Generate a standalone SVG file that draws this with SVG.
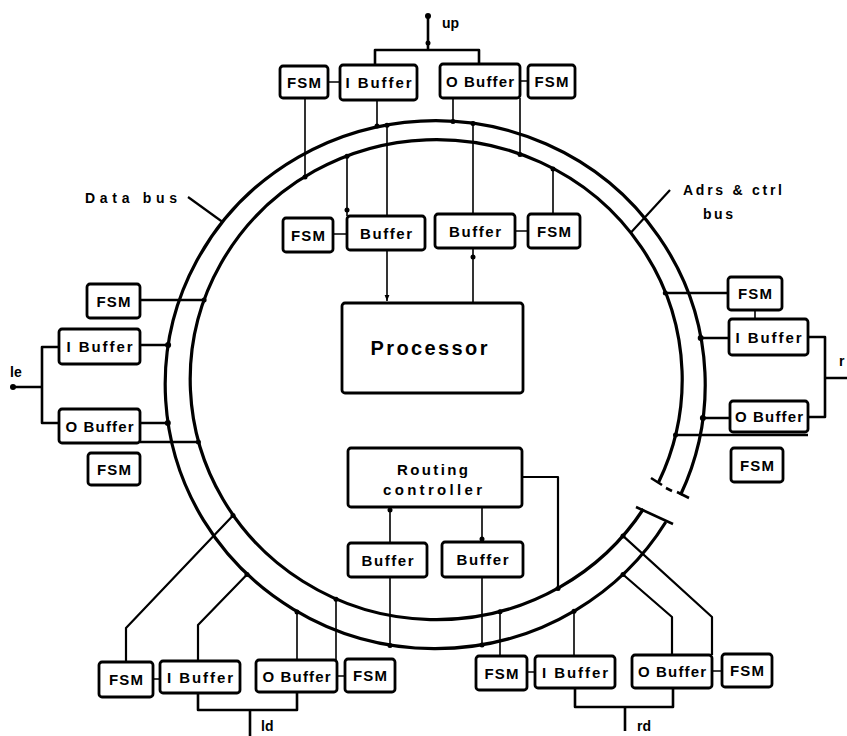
<svg xmlns="http://www.w3.org/2000/svg" width="847" height="736" viewBox="0 0 847 736">
  <style>
    .box{fill:#fff;stroke:#000;stroke-width:2.8}
    .t{font-family:"Liberation Sans",Arial,sans-serif;font-weight:bold;font-size:15px;fill:#000;text-anchor:middle}
    .lbl{font-family:"Liberation Sans",Arial,sans-serif;font-weight:bold;font-size:14px;fill:#000}
    .bus{fill:none;stroke:#000;stroke-width:3.2}
    .w{fill:none;stroke:#000;stroke-width:2.6;stroke-linejoin:round}
    .n{fill:none;stroke:#000;stroke-width:1.6}
    .dot{fill:#000}
  </style>
  <defs>
    <marker id="arr" viewBox="0 0 10 10" refX="10" refY="5" markerWidth="6" markerHeight="6" orient="auto" markerUnits="userSpaceOnUse">
      <path d="M0 1 L10 5 L0 9 Z" fill="#000"/>
    </marker>
  </defs>

  <!-- double ring: outer = data bus, inner = address & control bus, broken at lower right -->
  <g id="ring">
    <path class="bus" d="M 643.4 509 A 246 240 0 1 1 658.7 482"/>
    <path class="bus" d="M 665.8 522 A 270 264 0 1 1 680.5 495"/>
    <path class="w" d="M651 478 L662 485 M666 488 L672 491 M677 492 L689 498"/>
    <path class="w" d="M636 507 L673 524"/>
  </g>

  <!-- bus labels -->
  <g id="bus-labels">
    <path class="n" style="stroke-width:2.2" d="M188 197 L222.6 222"/>
    <text class="lbl" x="85" y="203" textLength="92" lengthAdjust="spacing">Data bus</text>
    <path class="n" style="stroke-width:2.2" d="M670 190 L630.5 233"/>
    <text class="lbl" x="683" y="195" textLength="99" lengthAdjust="spacing">Adrs &amp; ctrl</text>
    <text class="lbl" x="703" y="219" textLength="30" lengthAdjust="spacing">bus</text>
  </g>

  <!-- connectors -->
  <g id="connectors">
    <!-- top port -->
    <path class="w" d="M375 65 V50 H479 V64 M428 50 V15"/>
    <path class="n" d="M328 82 H340 M520 81 H528"/>
    <path class="n" d="M305 98 V177 M377 100 V127 M453 98 V121.6 M520 98 V154.4"/>
    <!-- inner top pair and processor feeds -->
    <path class="n" d="M347 216 V156.3 M553 214 V168.9 M333 234 H347 M515 231 H528"/>
    <path class="n" d="M387 125.2 V301" marker-end="url(#arr)"/>
    <path class="n" d="M473 123.6 V303"/>
    <!-- left port -->
    <path class="w" d="M140 300 H204.1 M140 345 H168.1 M140 423 H167.8 M140 442 H198.4"/>
    <path class="w" d="M59 347 H42 V423 H59 M42 387 H13"/>
    <!-- right port -->
    <path class="w" d="M728 293 H665.3 M729 338 H700.7 M730 418 H702.9 M808 435 H675.5"/>
    <path class="n" d="M755 310 V319"/>
    <path class="w" d="M808 337 H825 V417 H808 M825 378 H847"/>
    <!-- lower left port -->
    <path class="w" style="stroke-width:2.2" d="M126 662 V628 L233 515.6 M198 661 V625 L247 574.5"/>
    <path class="n" d="M297 660 V612 M336 660 V599.3 M153 679 H160 M337 676 H345"/>
    <path class="w" d="M198 693 V710 H297 V692 M250 710 V736"/>
    <!-- routing controller -->
    <path class="n" d="M390 507 V543 M482 507 V542 M390 577 V645.6 M482 577 V645"/>
    <path class="w" style="stroke-width:2.2" d="M522 477 H558 V588.4"/>
    <!-- lower right port -->
    <path class="n" d="M500 656 V611.7 M574 656 V611.3 M527 672 H535 M712 671 H722"/>
    <path class="w" style="stroke-width:2.2" d="M672 655 V617 L623 574.5 M712 655 V617 L623 535.9"/>
    <path class="w" d="M575 688 V707 H673 V688 M625 707 V731"/>
    <!-- junction dots -->
    <g class="dot">
      <circle cx="428" cy="16" r="3"/><circle cx="428" cy="43" r="2.5"/>
      <circle cx="305" cy="177" r="2.5"/><circle cx="377" cy="126" r="2.5"/>
      <circle cx="453" cy="121.6" r="2.5"/><circle cx="520" cy="154.4" r="2.5"/>
      <circle cx="347" cy="156.3" r="2.5"/><circle cx="347" cy="210" r="2.5"/>
      <circle cx="387" cy="125.2" r="2.5"/><circle cx="473" cy="123.6" r="2.5"/>
      <circle cx="473" cy="257" r="2.5"/><circle cx="553" cy="168.9" r="2.5"/>
      <circle cx="204.1" cy="300" r="2.5"/><circle cx="168.1" cy="345" r="3"/>
      <circle cx="167.8" cy="423" r="3"/><circle cx="198.4" cy="442" r="2.5"/>
      <circle cx="13" cy="387" r="3"/>
      <circle cx="665.3" cy="293" r="2.5"/><circle cx="700.7" cy="338" r="3"/>
      <circle cx="702.9" cy="418" r="3"/><circle cx="675.5" cy="435" r="2.5"/>
      <circle cx="233" cy="515.6" r="2.5"/><circle cx="247" cy="574.5" r="2.5"/>
      <circle cx="297" cy="612" r="2.5"/><circle cx="336" cy="599.3" r="2.5"/>
      <circle cx="390" cy="510" r="2.5"/><circle cx="482" cy="539" r="2.5"/>
      <circle cx="390" cy="645.6" r="2.5"/><circle cx="482" cy="645" r="2.5"/>
      <circle cx="558" cy="588.4" r="2.5"/><circle cx="500" cy="611.7" r="2.5"/>
      <circle cx="574" cy="611.3" r="2.5"/><circle cx="623" cy="574.5" r="2.5"/>
      <circle cx="623" cy="535.9" r="2.5"/>
    </g>
  </g>

  <!-- port labels -->
  <g id="port-labels">
    <text class="lbl" x="442" y="28">up</text>
    <text class="lbl" x="10" y="377">le</text>
    <text class="lbl" x="839" y="366">r</text>
    <text class="lbl" x="261" y="731">ld</text>
    <text class="lbl" x="637" y="731">rd</text>
  </g>

  <!-- up port interface -->
  <g id="up-fsm-in"><rect class="box" x="280" y="66" width="48" height="32" rx="3"/><text class="t" x="304" y="87.5" textLength="34" lengthAdjust="spacing">FSM</text></g>
  <g id="up-ibuffer"><rect class="box" x="340" y="65" width="77" height="35" rx="3"/><text class="t" x="378.5" y="88" textLength="66" lengthAdjust="spacing">I Buffer</text></g>
  <g id="up-obuffer"><rect class="box" x="440" y="64" width="80" height="34" rx="3"/><text class="t" x="480" y="86.5" textLength="68" lengthAdjust="spacing">O Buffer</text></g>
  <g id="up-fsm-out"><rect class="box" x="528" y="65" width="47" height="33" rx="3"/><text class="t" x="551.5" y="87" textLength="34" lengthAdjust="spacing">FSM</text></g>

  <!-- processor interface -->
  <g id="proc-fsm-in"><rect class="box" x="283" y="218" width="50" height="34" rx="3"/><text class="t" x="308" y="240.5" textLength="34" lengthAdjust="spacing">FSM</text></g>
  <g id="proc-buffer-in"><rect class="box" x="347" y="216" width="78" height="34" rx="3"/><text class="t" x="386" y="238.5" textLength="52" lengthAdjust="spacing">Buffer</text></g>
  <g id="proc-buffer-out"><rect class="box" x="435" y="214" width="80" height="34" rx="3"/><text class="t" x="475" y="236.5" textLength="52" lengthAdjust="spacing">Buffer</text></g>
  <g id="proc-fsm-out"><rect class="box" x="528" y="214" width="52" height="34" rx="3"/><text class="t" x="554" y="236.5" textLength="34" lengthAdjust="spacing">FSM</text></g>
  <g id="processor"><rect class="box" x="342" y="303" width="181" height="90" rx="3"/><text class="t" style="font-size:20px" x="429" y="355" textLength="117" lengthAdjust="spacing">Processor</text></g>

  <!-- left port interface -->
  <g id="le-fsm-in"><rect class="box" x="87" y="284" width="53" height="34" rx="3"/><text class="t" x="113.5" y="306.5" textLength="34" lengthAdjust="spacing">FSM</text></g>
  <g id="le-ibuffer"><rect class="box" x="59" y="329" width="81" height="35" rx="3"/><text class="t" x="99.5" y="352" textLength="66" lengthAdjust="spacing">I Buffer</text></g>
  <g id="le-obuffer"><rect class="box" x="59" y="409" width="81" height="34" rx="3"/><text class="t" x="99.5" y="431.5" textLength="68" lengthAdjust="spacing">O Buffer</text></g>
  <g id="le-fsm-out"><rect class="box" x="88" y="453" width="52" height="32" rx="3"/><text class="t" x="114" y="474.5" textLength="34" lengthAdjust="spacing">FSM</text></g>

  <!-- right port interface -->
  <g id="ri-fsm-in"><rect class="box" x="728" y="277" width="54" height="33" rx="3"/><text class="t" x="755" y="299" textLength="34" lengthAdjust="spacing">FSM</text></g>
  <g id="ri-ibuffer"><rect class="box" x="729" y="319" width="79" height="36" rx="3"/><text class="t" x="768.5" y="342.5" textLength="66" lengthAdjust="spacing">I Buffer</text></g>
  <g id="ri-obuffer"><rect class="box" x="730" y="401" width="78" height="31" rx="3"/><text class="t" x="769" y="422" textLength="68" lengthAdjust="spacing">O Buffer</text></g>
  <g id="ri-fsm-out"><rect class="box" x="731" y="448" width="52" height="34" rx="3"/><text class="t" x="757" y="470.5" textLength="34" lengthAdjust="spacing">FSM</text></g>

  <!-- routing controller and its buffers -->
  <g id="routing-controller"><rect class="box" x="348" y="448" width="174" height="59" rx="3"/><text class="t" x="432.5" y="475" textLength="71" lengthAdjust="spacing">Routing</text><text class="t" x="432.5" y="495" textLength="99" lengthAdjust="spacing">controller</text></g>
  <g id="rc-buffer-a"><rect class="box" x="348" y="543" width="79" height="34" rx="3"/><text class="t" x="387.5" y="565.5" textLength="52" lengthAdjust="spacing">Buffer</text></g>
  <g id="rc-buffer-b"><rect class="box" x="442" y="542" width="81" height="35" rx="3"/><text class="t" x="482.5" y="565" textLength="52" lengthAdjust="spacing">Buffer</text></g>

  <!-- left-down port interface -->
  <g id="ld-fsm-in"><rect class="box" x="99" y="662" width="54" height="35" rx="3"/><text class="t" x="126" y="685" textLength="34" lengthAdjust="spacing">FSM</text></g>
  <g id="ld-ibuffer"><rect class="box" x="160" y="661" width="80" height="32" rx="3"/><text class="t" x="200" y="682.5" textLength="66" lengthAdjust="spacing">I Buffer</text></g>
  <g id="ld-obuffer"><rect class="box" x="256" y="660" width="81" height="32" rx="3"/><text class="t" x="296.5" y="681.5" textLength="68" lengthAdjust="spacing">O Buffer</text></g>
  <g id="ld-fsm-out"><rect class="box" x="345" y="659" width="50" height="33" rx="3"/><text class="t" x="370" y="681" textLength="34" lengthAdjust="spacing">FSM</text></g>

  <!-- right-down port interface -->
  <g id="rd-fsm-in"><rect class="box" x="476" y="656" width="51" height="34" rx="3"/><text class="t" x="501.5" y="678.5" textLength="34" lengthAdjust="spacing">FSM</text></g>
  <g id="rd-ibuffer"><rect class="box" x="535" y="656" width="80" height="32" rx="3"/><text class="t" x="575" y="677.5" textLength="66" lengthAdjust="spacing">I Buffer</text></g>
  <g id="rd-obuffer"><rect class="box" x="632" y="655" width="80" height="33" rx="3"/><text class="t" x="672" y="677" textLength="68" lengthAdjust="spacing">O Buffer</text></g>
  <g id="rd-fsm-out"><rect class="box" x="722" y="654" width="50" height="33" rx="3"/><text class="t" x="747" y="676" textLength="34" lengthAdjust="spacing">FSM</text></g>
</svg>
